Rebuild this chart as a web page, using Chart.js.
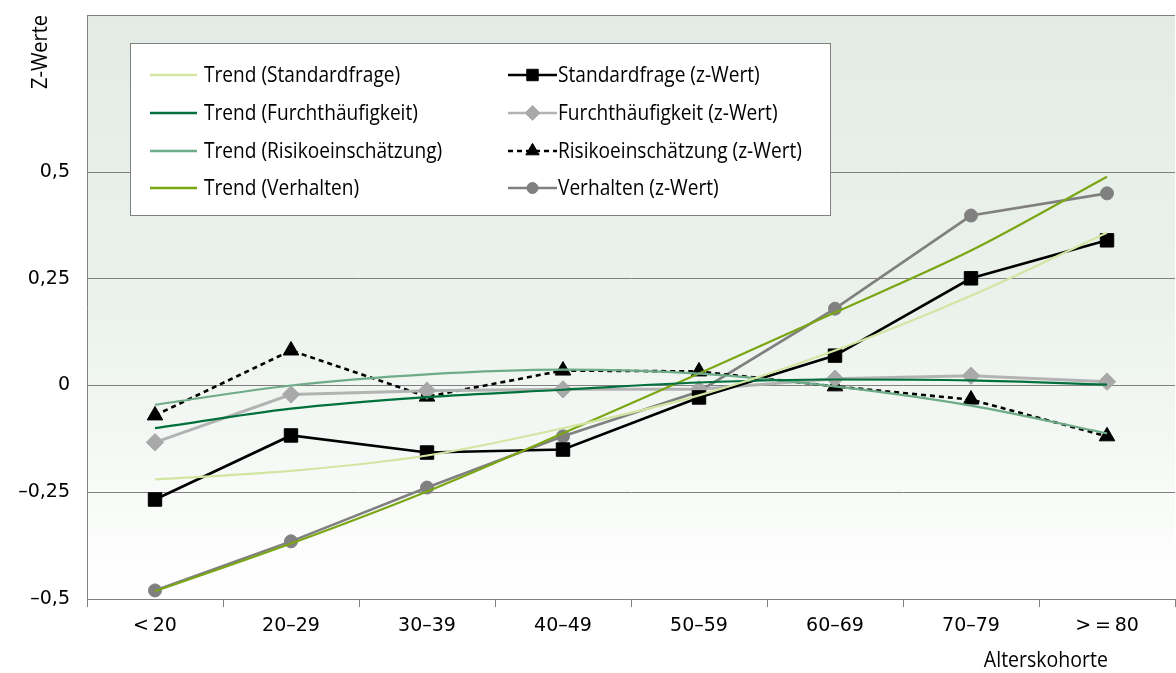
<!DOCTYPE html>
<html>
<head>
<meta charset="utf-8">
<script src="https://cdn.jsdelivr.net/npm/chart.js@4.4.1/dist/chart.umd.min.js"></script>
<style>
  html, body { margin: 0; padding: 0; background: #fff; overflow: hidden; }
  #wrap { width: 1176px; height: 673px; position: relative; }
  canvas { display: block; }
</style>
</head>
<body>
<div id="wrap"><canvas id="chart" width="1176" height="673"></canvas></div>
<script>
// categories and tick labels
const categories = ['<\u200920', '20–29', '30–39', '40–49', '50–59', '60–69', '70–79', '>\u2009=\u200980'];
const yTicks = [-0.5, -0.25, 0, 0.25, 0.5];

// z-values
const standardfrage = [-0.267, -0.117, -0.157, -0.150, -0.028, 0.070, 0.251, 0.340];
const furcht = [-0.133, -0.021, -0.012, -0.009, -0.009, 0.016, 0.023, 0.009];
const risiko = [-0.070, 0.082, -0.026, 0.035, 0.033, -0.002, -0.033, -0.119];
const verhalten = [-0.480, -0.365, -0.239, -0.119, -0.014, 0.180, 0.398, 0.450];

// trend curves
const trendStandard = [-0.220, -0.200, -0.164, -0.100, -0.023, 0.082, 0.210, 0.358];
const trendFurcht = [-0.100, -0.054, -0.027, -0.010, 0.007, 0.014, 0.012, 0.002];
const trendRisiko = [-0.045, 0.000, 0.026, 0.037, 0.028, -0.002, -0.047, -0.112];
const trendVerhalten = [-0.482, -0.370, -0.248, -0.112, 0.028, 0.171, 0.316, 0.489];

const FONT = "'Open Sans', 'DejaVu Sans', sans-serif";
const TICKFONT = "'DejaVu Sans', sans-serif";
const GRID = '#808080';

function fmt(v) {
  return String(v).replace('.', ',').replace('-', '–');
}

function trend(label, data, color) {
  return {
    label, data, borderColor: color, backgroundColor: color,
    borderWidth: 2.2, pointRadius: 0, cubicInterpolationMode: 'monotone', order: 1
  };
}

function series(label, data, color, style, radius, lineColor, width, dash) {
  return {
    label, data,
    borderColor: lineColor || color, backgroundColor: color,
    borderWidth: width, borderDash: dash || [],
    pointStyle: style, pointRadius: radius, pointHoverRadius: radius,
    pointBackgroundColor: color, pointBorderColor: color, pointBorderWidth: 1,
    tension: 0, order: 2
  };
}

const datasets = [
  trend('Trend (Standardfrage)', trendStandard, '#d3e5a2'),
  trend('Trend (Furchthäufigkeit)', trendFurcht, '#00703c'),
  trend('Trend (Risikoeinschätzung)', trendRisiko, '#6eab88'),
  trend('Trend (Verhalten)', trendVerhalten, '#7aa614'),
  series('Standardfrage (z-Wert)', standardfrage, '#000000', 'rect', 9.5, null, 2.6),
  series('Furchthäufigkeit (z-Wert)', furcht, '#a9a9a9', 'rectRot', 8.7, '#b3b3b3', 3),
  series('Risikoeinschätzung (z-Wert)', risiko, '#000000', 'triangle', 9, '#000000', 2.6, [5, 4]),
  series('Verhalten (z-Wert)', verhalten, '#808080', 'circle', 6.5, null, 2.6)
];

// condensed text: draw at size, squeezed horizontally
function text(ctx, str, x, y, size, squeeze, align) {
  ctx.save();
  ctx.font = size + 'px ' + FONT;
  ctx.textAlign = align;
  ctx.textBaseline = 'middle';
  ctx.translate(x, y);
  ctx.scale(squeeze, 1);
  ctx.fillText(str, 0, 0);
  ctx.restore();
}

const decor = {
  id: 'decor',
  beforeDraw(chart) {
    const { ctx, chartArea: a } = chart;
    const g = ctx.createLinearGradient(0, a.top, 0, a.bottom);
    g.addColorStop(0, '#e2ece4');
    g.addColorStop(0.5, '#ebf2ec');
    g.addColorStop(0.8, '#f7faf7');
    g.addColorStop(1, '#ffffff');
    ctx.save();
    ctx.fillStyle = g;
    ctx.fillRect(a.left, a.top, a.right - a.left, a.bottom - a.top);
    ctx.restore();
  },
  afterDraw(chart) {
    const { ctx, chartArea: a } = chart;
    ctx.save();
    // top border
    ctx.strokeStyle = GRID;
    ctx.lineWidth = 1;
    ctx.beginPath();
    ctx.moveTo(a.left, a.top + 0.5);
    ctx.lineTo(a.right, a.top + 0.5);
    ctx.stroke();

    // axis titles
    ctx.fillStyle = '#000';
    text(ctx, 'Alterskohorte', 1108, 661, 21, 0.93, 'right');
    ctx.save();
    ctx.translate(41, 15);
    ctx.rotate(-Math.PI / 2);
    text(ctx, 'Z-Werte', 0, 0, 21, 0.95, 'right');
    ctx.restore();

    // legend box
    ctx.fillStyle = '#fff';
    ctx.fillRect(130, 43, 700, 172);
    ctx.strokeStyle = GRID;
    ctx.strokeRect(130.5, 43.5, 700, 172);

    const rows = [75, 113, 151, 188];
    const cols = [{ x0: 150, x1: 197, tx: 204 }, { x0: 508, x1: 557, tx: 558 }];
    chart.data.datasets.forEach((ds, i) => {
      const c = cols[Math.floor(i / 4)];
      const y = rows[i % 4];
      ctx.strokeStyle = ds.borderColor;
      ctx.lineWidth = 2.5;
      ctx.setLineDash(ds.borderDash || []);
      ctx.beginPath();
      ctx.moveTo(c.x0, y);
      ctx.lineTo(c.x1, y);
      ctx.stroke();
      ctx.setLineDash([]);
      if (ds.pointRadius) {
        ctx.fillStyle = ds.pointBackgroundColor;
        ctx.strokeStyle = ds.pointBorderColor;
        ctx.lineWidth = 1;
        Chart.helpers.drawPoint(ctx, {
          pointStyle: ds.pointStyle, radius: ds.pointRadius * 0.85, rotation: 0, borderWidth: 1
        }, (c.x0 + c.x1) / 2, y);
      }
      ctx.fillStyle = '#000';
      text(ctx, ds.label, c.tx, y + 1, 21, 0.91, 'left');
    });
    ctx.restore();
  }
};

new Chart(document.getElementById('chart'), {
  type: 'line',
  data: { labels: categories, datasets },
  plugins: [decor],
  options: {
    responsive: false,
    animation: false,
    layout: { autoPadding: false, padding: { top: 15, right: 1, left: 0, bottom: 0 } },
    plugins: { legend: { display: false }, tooltip: { enabled: false } },
    scales: {
      x: {
        offset: true,
        grid: { offset: true, drawOnChartArea: false, drawTicks: true, tickLength: 8, color: GRID },
        border: { color: GRID, width: 1 },
        ticks: { color: '#000', font: { family: TICKFONT, size: 19 }, padding: 8, maxRotation: 0 },
        afterFit(scale) {
          scale.height = 74;
          scale.paddingLeft = 0;
          scale.paddingRight = 0;
        }
      },
      y: {
        min: -0.5,
        max: 0.8677,
        afterBuildTicks(scale) { scale.ticks = yTicks.map(v => ({ value: v })); },
        grid: { color: GRID, drawTicks: false, lineWidth: 1 },
        border: { color: GRID, width: 1 },
        ticks: { color: '#000', font: { family: TICKFONT, size: 19 }, padding: 17, callback: v => fmt(v) },
        afterFit(scale) {
          scale.width = 87;
          scale.paddingTop = 0;
          scale.paddingBottom = 0;
        }
      }
    }
  }
});
</script>
</body>
</html>
